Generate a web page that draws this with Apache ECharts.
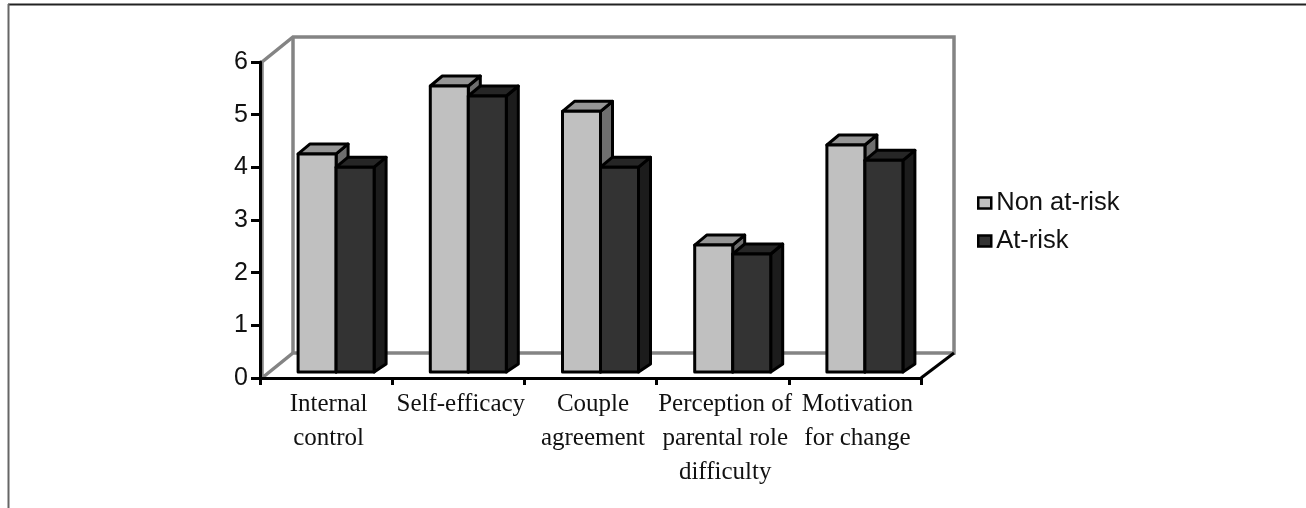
<!DOCTYPE html>
<html>
<head>
<meta charset="utf-8">
<style>
  html, body { margin: 0; padding: 0; background: #fff; }
  #main { width: 1306px; height: 508px; }
</style>
<script src="https://cdn.jsdelivr.net/npm/echarts@6/dist/echarts.min.js"></script>
</head>
<body>
<div id="main"></div>
<script>
var categories = ['Internal\ncontrol', 'Self-efficacy', 'Couple\nagreement', 'Perception of\nparental role\ndifficulty', 'Motivation\nfor change'];
var nonAtRisk = [4.14, 5.43, 4.95, 2.41, 4.31];
var atRisk = [3.89, 5.24, 3.89, 2.24, 4.02];
var yTicks = [0, 1, 2, 3, 4, 5, 6];

var chart = echarts.init(document.getElementById('main'));

// one 3d column: front face, top and side, pushed back a little from the axis plane
function barRenderer(front, top, side, left) {
  return function (params, api) {
    var base = api.coord([api.value(0), 0]);
    var head = api.coord([api.value(0), api.value(1)]);
    var w = 38, dx = 12, dy = 10;
    var x0 = base[0] + 10 + (left ? -w : 0);
    var x1 = x0 + w;
    var yb = base[1] - 6, yt = head[1] - 6;
    var line = { stroke: '#000', lineWidth: 3, lineJoin: 'round' };
    return {
      type: 'group',
      children: [
        { type: 'polygon', shape: { points: [[x1, yb], [x1 + dx, yb - dy + 2], [x1 + dx, yt - dy], [x1, yt]] }, style: Object.assign({ fill: side }, line) },
        { type: 'polygon', shape: { points: [[x0, yt], [x0 + dx, yt - dy], [x1 + dx, yt - dy], [x1, yt]] }, style: Object.assign({ fill: top }, line) },
        { type: 'rect', shape: { x: x0, y: yt, width: w, height: yb - yt }, style: Object.assign({ fill: front }, line) }
      ]
    };
  };
}

function wallRenderer(params) {
  var g = params.coordSys;
  var ox = 33, oy = 25, l = g.x + 2, b = g.y + g.height, t = g.y, r = g.x + g.width;
  var bx = g.x + ox;
  var gray = { stroke: '#848484', lineWidth: 3.5, fill: null };
  return {
    type: 'group',
    children: [
      { type: 'polyline', shape: { points: [[l, b], [l, t], [bx, t - oy], [r + ox, t - oy], [r + ox, b - oy], [bx, b - oy], [l, b]] }, style: gray },
      { type: 'line', shape: { x1: bx, y1: t - oy, x2: bx, y2: b - oy }, style: gray },
      { type: 'line', shape: { x1: r, y1: b, x2: r + ox, y2: b - oy }, style: { stroke: '#000', lineWidth: 3 } }
    ]
  };
}

function pairs(values) {
  return values.map(function (v, i) { return [i, v]; });
}

chart.setOption({
  animation: false,
  backgroundColor: '#fff',
  textStyle: { fontFamily: 'Liberation Sans' },
  graphic: [
    { type: 'line', shape: { x1: 8, y1: 4.5, x2: 1306, y2: 4.5 }, style: { stroke: '#222', lineWidth: 2 } },
    { type: 'line', shape: { x1: 8.5, y1: 4, x2: 8.5, y2: 508 }, style: { stroke: '#666', lineWidth: 2 } }
  ],
  legend: {
    left: 972,
    top: 184,
    orient: 'vertical',
    itemWidth: 13,
    itemHeight: 11,
    itemGap: 10,
    data: [
      { name: 'Non at-risk', icon: 'rect', itemStyle: { color: '#c0c0c0', borderColor: '#000', borderWidth: 2.5 } },
      { name: 'At-risk', icon: 'rect', itemStyle: { color: '#333333', borderColor: '#000', borderWidth: 2.5 } }
    ],
    textStyle: { fontFamily: 'Liberation Sans', fontSize: 25.5, color: '#111', lineHeight: 28 }
  },
  grid: { left: 260, right: 385, top: 62, bottom: 130 },
  xAxis: {
    type: 'category',
    data: categories,
    axisLine: { lineStyle: { color: '#000', width: 3 } },
    axisTick: { show: true, alignWithLabel: false, length: 7, lineStyle: { color: '#000', width: 3 } },
    axisLabel: { interval: 0, margin: 9, fontFamily: 'Liberation Serif', fontSize: 25, lineHeight: 34, color: '#111', padding: [0, 0, 0, 5] }
  },
  yAxis: {
    type: 'value',
    min: yTicks[0],
    max: yTicks[yTicks.length - 1],
    interval: 1,
    splitLine: { show: false },
    axisLine: { show: true, lineStyle: { color: '#000', width: 3 } },
    axisTick: { show: true, length: 9, lineStyle: { color: '#000', width: 3 } },
    axisLabel: { margin: 12, fontFamily: 'Liberation Sans', fontSize: 25, color: '#111', padding: [0, 0, 5, 0] }
  },
  series: [
    { name: 'wall', type: 'custom', z: -1, silent: true, renderItem: wallRenderer, data: [[0, 0]] },
    { name: 'Non at-risk', type: 'custom', z: 2, renderItem: barRenderer('#c0c0c0', '#969696', '#6e6e6e', true), data: pairs(nonAtRisk), encode: { x: 0, y: 1 }, itemStyle: { color: '#c0c0c0' } },
    { name: 'At-risk', type: 'custom', z: 3, renderItem: barRenderer('#333333', '#262626', '#1c1c1c', false), data: pairs(atRisk), encode: { x: 0, y: 1 }, itemStyle: { color: '#333333' } }
  ]
});
</script>
</body>
</html>
